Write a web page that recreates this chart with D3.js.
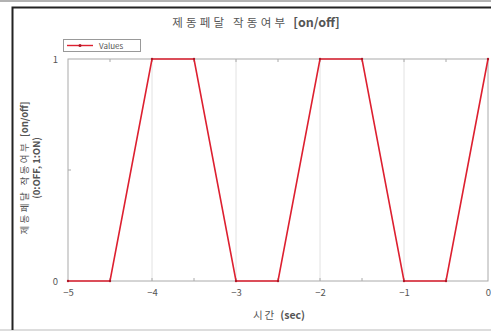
<!DOCTYPE html>
<html><head><meta charset="utf-8">
<script src="https://cdn.jsdelivr.net/npm/d3@7"></script>
<style>body{margin:0;background:#fff}svg{display:block}</style>
</head><body><svg id="c" width="491" height="331"></svg>
<script>
const times = [-5, -4.5, -4, -3.5, -3, -2.5, -2, -1.5, -1, -0.5, 0];
const values = [0, 0, 1, 1, 0, 0, 1, 1, 0, 0, 1];
const xTicks = [-5, -4, -3, -2, -1, 0];
const yTicks = [0, 1];
const seriesName = "Values";
const titleText = "제동페달 작동여부";
const titleBold = "[on/off]";
const xLabelText = "시간";
const xLabelBold = "(sec)";
const yLabelText = "제동페달 작동여부";
const yLabelBold = "[on/off]";
const yLabel2 = "(0:OFF, 1:ON)";

const svg = d3.select("#c");
const font = "'Noto Sans CJK KR', 'Liberation Sans', Arial, sans-serif";
const L = 68, R = 488, T = 59, B = 281;
const x = d3.scaleLinear().domain([-5, 0]).range([L, R]);
const y = d3.scaleLinear().domain([0, 1]).range([B, T]);

// page lines & frame
svg.append("line").attr("x1",0).attr("x2",491).attr("y1",1).attr("y2",1).attr("stroke","#999").attr("stroke-width",1.5);
svg.append("line").attr("x1",0).attr("x2",491).attr("y1",330).attr("y2",330).attr("stroke","#bbb").attr("stroke-width",1);
svg.append("path").attr("d","M12.5,330 L12.5,7.5 L491,7.5").attr("fill","none").attr("stroke","#222").attr("stroke-width",2);

// grid
svg.append("g").selectAll("line").data(xTicks.slice(1,-1)).join("line")
  .attr("x1",d=>x(d)).attr("x2",d=>x(d)).attr("y1",T).attr("y2",B)
  .attr("stroke","#e2e2e2").attr("stroke-width",1);

// plot box
svg.append("rect").attr("x",L).attr("y",T).attr("width",R-L).attr("height",B-T)
  .attr("fill","none").attr("stroke","#aaa").attr("stroke-width",1);

// axes
const xAx = svg.append("g").attr("transform",`translate(0,${B})`)
  .call(d3.axisBottom(x).tickValues(xTicks).tickFormat(d3.format("d")).tickSize(0).tickPadding(8));
const yAx = svg.append("g").attr("transform",`translate(${L},0)`)
  .call(d3.axisLeft(y).tickValues(yTicks).tickFormat(d3.format("d")).tickSize(0).tickPadding(10));
[xAx,yAx].forEach(g=>{g.select(".domain").remove();
  g.selectAll("text").attr("font-family",font).attr("font-size",9.5).attr("fill","#555");});
// minor ticks
const minorX = d3.range(-4.5, 0, 0.5);
svg.append("g").selectAll("line").data(minorX).join("line")
  .attr("x1",d=>x(d)).attr("x2",d=>x(d)).attr("y1",B).attr("y2",B-3).attr("stroke","#aaa");
svg.append("g").selectAll("line").data(minorX).join("line")
  .attr("x1",d=>x(d)).attr("x2",d=>x(d)).attr("y1",T).attr("y2",T+3).attr("stroke","#aaa");
svg.append("line").attr("x1",L).attr("x2",L+3).attr("y1",y(0.5)).attr("y2",y(0.5)).attr("stroke","#aaa");

// series
const pts = times.map((t,i)=>[t,values[i]]);
svg.append("path").datum(pts)
  .attr("d", d3.line().x(d=>x(d[0])).y(d=>y(d[1])))
  .attr("fill","none").attr("stroke","#dd2030").attr("stroke-width",1.6);
svg.append("g").selectAll("circle").data(pts).join("circle")
  .attr("cx",d=>x(d[0])).attr("cy",d=>y(d[1])).attr("r",1.2).attr("fill","#b01828");

// title
const t = svg.append("text").attr("x",256).attr("y",27).attr("text-anchor","middle")
  .attr("font-family",font).attr("font-size",11.5).attr("fill","#555");
t.append("tspan").attr("letter-spacing",3.2).text(titleText);
t.append("tspan").attr("dx",5).attr("font-weight","bold").attr("font-size",12.5).text(titleBold);

// x label
const xl = svg.append("text").attr("x",279).attr("y",319).attr("text-anchor","middle")
  .attr("font-family",font).attr("font-size",10.5).attr("fill","#555");
xl.append("tspan").attr("letter-spacing",2).text(xLabelText);
xl.append("tspan").attr("dx",4).attr("font-weight","bold").text(xLabelBold);

// y label
const yl = svg.append("text").attr("transform","translate(28,168) rotate(-90)").attr("text-anchor","middle")
  .attr("font-family",font).attr("font-size",9.5).attr("fill","#555");
yl.append("tspan").attr("letter-spacing",2.4).text(yLabelText);
yl.append("tspan").attr("dx",4).attr("font-weight","bold").text(yLabelBold);
svg.append("text").attr("transform","translate(40,168) rotate(-90)").attr("text-anchor","middle")
  .attr("font-family",font).attr("font-size",9.5).attr("font-weight","bold").attr("fill","#555").text(yLabel2);

// legend
const lg = svg.append("g");
lg.append("rect").attr("x",63.5).attr("y",39.5).attr("width",77).attr("height",12)
  .attr("fill","#fff").attr("stroke","#999").attr("stroke-width",1);
lg.append("line").attr("x1",67).attr("x2",93).attr("y1",45.5).attr("y2",45.5).attr("stroke","#dd2030").attr("stroke-width",1.4);
lg.append("circle").attr("cx",80).attr("cy",45.5).attr("r",1.5).attr("fill","#b01828");
lg.append("text").attr("x",99).attr("y",48.5).attr("font-family",font).attr("font-size",8).attr("fill","#555").text(seriesName);
</script></body></html>
